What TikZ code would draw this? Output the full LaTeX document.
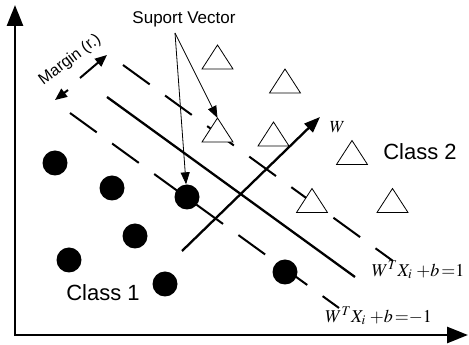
\documentclass[tikz,border=0pt]{standalone}
\usepackage{mathptmx}
\usepackage[no-math]{fontspec}
\setmainfont{Liberation Sans}
\usetikzlibrary{arrows.meta}

\tikzset{
  dot/.style={circle, fill=black, minimum size=25pt, inner sep=0pt},
  tri/.style={draw, fill=white, line width=0.8pt, line join=miter},
  axis/.style={line width=2.6pt, {Triangle[length=21pt,width=16pt]}-{Triangle[length=21pt,width=16pt]}},
  hyper/.style={line width=2.3pt},
  bound/.style={line width=2pt, dash pattern=on 33pt off 19pt},
  pointer/.style={line width=0.8pt, -{Triangle[length=12pt,width=9pt]}},
  marrow/.style={line width=2pt, -{Triangle[length=12pt,width=10pt]}},
  classlab/.style={font=\fontsize{22}{25}\selectfont, inner sep=0pt},
  eqlab/.style={font=\fontsize{18}{20}\selectfont, inner sep=0pt}
}

\begin{document}
\begin{tikzpicture}[x=10pt, y=10pt]
    \useasboundingbox (0,0) rectangle (46.9,34.5);

    % Axes
    \coordinate (origin) at (1.5,1.0);
    \coordinate (ytip) at (1.5,34.0);
    \coordinate (xtip) at (46.8,1.0);
    \draw[axis] (ytip) -- (origin) -- (xtip);

    % Hyperplane and margin boundaries
    \coordinate (hA) at (10.7,24.8);
    \coordinate (hB) at (35.5,6.8);
    \coordinate (upA) at (12.3,28.0);
    \coordinate (upB) at (39.3,8.4);
    \coordinate (loA) at (7.0,23.2);
    \coordinate (loB) at (33.9,3.7);
    \draw[hyper] (hA) -- (hB);
    \draw[bound] (upA) -- (upB);
    \draw[bound] (loA) -- (loB);

    % Normal vector
    \coordinate (wfoot) at (18.2,9.4);
    \coordinate (whead) at (32.0,22.8);
    \draw[hyper, -{Triangle[length=16pt,width=12pt]}] (wfoot) -- (whead);
    \node[font=\fontsize{17}{19}\selectfont, inner sep=0pt] (wlab) at (33.75,21.8) {$W$};

    % Class 2 samples
    \foreach \x/\y [count=\i] in {21.75/28.8, 21.75/21.5, 28.5/26.4, 27.35/21.1, 35.2/19.25, 31.2/14.45, 39.25/14.45} {
        \filldraw[tri] (\x,\y) ++(-1.55,-1.2) -- ++(3.1,0) -- ++(-1.55,2.4) -- cycle;
        \coordinate (t\i) at (\x,\y+1.2);
    }

    % Class 1 samples
    \foreach \x/\y [count=\i] in {5.5/18.2, 11.2/15.7, 18.7/14.8, 13.5/10.9, 6.9/8.5, 16.5/6.1, 28.5/7.3} {
        \node[dot] (c\i) at (\x,\y) {};
    }

    % Support vectors
    \node[font=\fontsize{17}{19}\selectfont, inner sep=0pt] (sv) at (18.4,32.6) {Suport Vector};
    \coordinate (svfoot) at (17.5,31.2);
    \draw[pointer] (svfoot) -- (c3);
    \draw[pointer] (svfoot) -- (t2);

    % Margin
    \coordinate (mA) at (8.0,26.7);
    \coordinate (mB) at (10.7,29.0);
    \coordinate (mC) at (6.8,25.5);
    \coordinate (mD) at (5.5,24.5);
    \draw[marrow] (mA) -- (mB);
    \draw[marrow] (mC) -- (mD);
    \node[rotate=37, font=\fontsize{16}{18}\selectfont, inner sep=0pt] (mlab) at (7.0,28.5) {Margin (r.)};

    % Labels
    \node[classlab] (cls1) at (10.3,5.2) {Class 1};
    \node[classlab] (cls2) at (42.0,19.3) {Class 2};
    \node[eqlab] (eqplus) at (41.8,7.5) {$W^{T}X_{i}\;{+}b\,{=}1$};
    \node[eqlab] (eqminus) at (37.85,2.9) {$W^{T}X_{i}\;{+}b\,{=}{-}1$};
\end{tikzpicture}
\end{document}
